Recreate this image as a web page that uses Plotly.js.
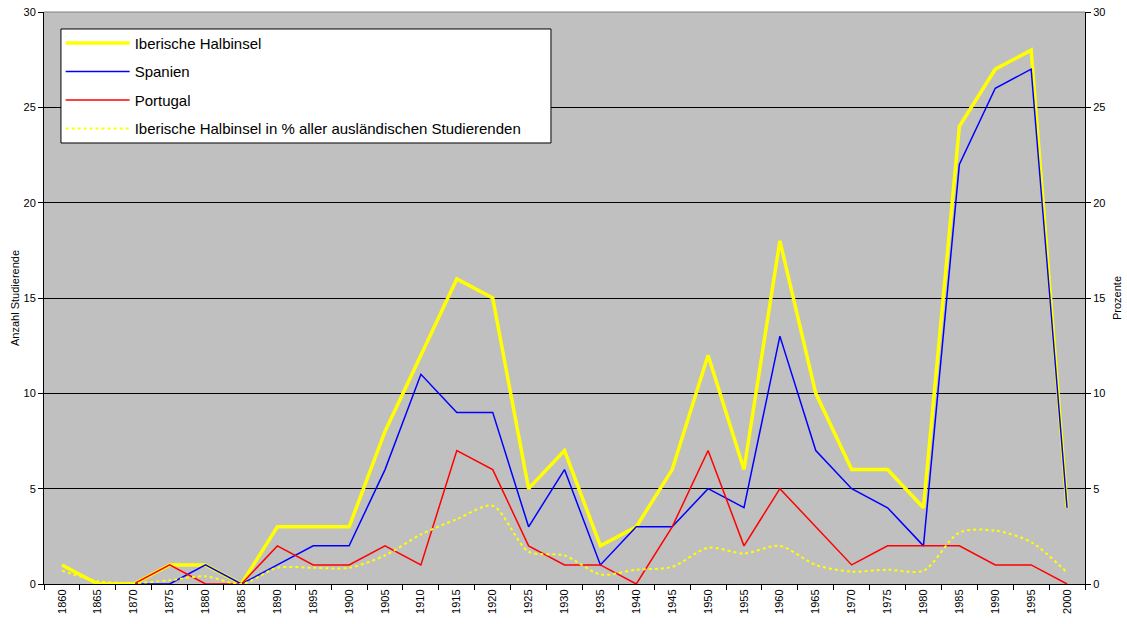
<!DOCTYPE html>
<html>
<head>
<meta charset="utf-8">
<script src="https://cdn.plot.ly/plotly-3.0.1.min.js"></script>
<style>html,body{margin:0;padding:0;background:#fff;}#chart{width:1127px;height:624px;}</style>
</head>
<body>
<div id="chart"></div>
<script>
var years = ["1860","1865","1870","1875","1880","1885","1890","1895","1900","1905","1910","1915","1920","1925","1930","1935","1940","1945","1950","1955","1960","1965","1970","1975","1980","1985","1990","1995","2000"];
var iberische = [1,0,0,1,1,0,3,3,3,8,12,16,15,5,7,2,3,6,12,6,18,10,6,6,4,24,27,28,4];
var spanien = [null,null,0,0,1,0,1,2,2,6,11,9,9,3,6,1,3,3,5,4,13,7,5,4,2,22,26,27,4];
var portugal = [null,null,0,1,0,0,2,1,1,2,1,7,6,2,1,1,0,3,7,2,5,3,1,2,2,2,1,1,0];
var prozent = [0.7,0.15,0.05,0.2,0.4,0.0,0.85,0.85,0.85,1.5,2.6,3.4,4.1,1.7,1.5,0.5,0.75,0.9,1.9,1.6,2.0,1.0,0.65,0.75,0.7,2.7,2.8,2.2,0.6];
var names = ["Iberische Halbinsel","Spanien","Portugal","Iberische Halbinsel in % aller ausländischen Studierenden"];

var traces = [
  {x: years, y: iberische, name: names[0], type: 'scatter', mode: 'lines', line: {color: '#ffff00', width: 3.5}, legendgroup: 'a'},
  {x: years, y: spanien, name: names[1], type: 'scatter', mode: 'lines', line: {color: '#0000ff', width: 1.5}, legendgroup: 'b'},
  {x: years, y: portugal, name: names[2], type: 'scatter', mode: 'lines', line: {color: '#ff0000', width: 1.5}, legendgroup: 'c'},
  {x: years, y: prozent, name: names[3], type: 'scatter', mode: 'lines', yaxis: 'y2', line: {color: '#ffff00', width: 2, dash: '3px,3px', shape: 'spline', smoothing: 0.8}, legendgroup: 'd'}
];

var tickFont = {family: 'Arial, Liberation Sans, sans-serif', size: 11, color: '#000'};
var layout = {
  width: 1127, height: 624,
  margin: {l: 44, r: 42, t: 12, b: 40, pad: 0},
  paper_bgcolor: '#ffffff',
  plot_bgcolor: '#c0c0c0',
  font: {family: 'Arial, Liberation Sans, sans-serif', size: 11, color: '#000'},
  showlegend: true,
  legend: {
    x: 0.016, y: 0.974, xanchor: 'left', yanchor: 'top',
    bgcolor: 'rgba(0,0,0,0)', borderwidth: 0,
    font: {family: 'Arial, Liberation Sans, sans-serif', size: 15, color: '#000'},
    traceorder: 'grouped', tracegroupgap: 6, itemwidth: 64
  },
  xaxis: {
    type: 'category', range: [-0.5, 28.5],
    tickangle: -90, tickfont: tickFont,
    ticks: 'outside', ticklen: 5, tickcolor: '#000', tickson: 'boundaries',
    showline: true, linecolor: '#000', linewidth: 1,
    showgrid: false, zeroline: false, fixedrange: true
  },
  yaxis: {
    range: [0, 30], dtick: 5, tickfont: tickFont,
    ticks: 'outside', ticklen: 5, tickcolor: '#000',
    showline: true, linecolor: '#000', linewidth: 1,
    showgrid: true, gridcolor: '#000', gridwidth: 1, zeroline: false,
    title: {text: 'Anzahl Studierende', font: {size: 11}, standoff: 1}
  },
  yaxis2: {
    range: [0, 30], dtick: 5, tickfont: tickFont, overlaying: 'y', side: 'right',
    ticks: 'outside', ticklen: 5, tickcolor: '#000',
    showline: true, linecolor: '#000', linewidth: 1,
    showgrid: false, zeroline: false,
    title: {text: 'Prozente', font: {size: 11}, standoff: 8}
  },
  shapes: [
    {type: 'line', xref: 'paper', yref: 'paper', x0: 0, x1: 1, y0: 1, y1: 1, line: {color: '#808080', width: 1}},
    {type: 'rect', xref: 'paper', yref: 'paper', x0: 0.0163, x1: 0.487, y0: 0.771, y1: 0.9703, layer: 'above',
     fillcolor: '#ffffff', line: {color: '#000000', width: 1}}
  ]
};

Plotly.newPlot('chart', traces, layout, {displayModeBar: false, staticPlot: true});
</script>
</body>
</html>
